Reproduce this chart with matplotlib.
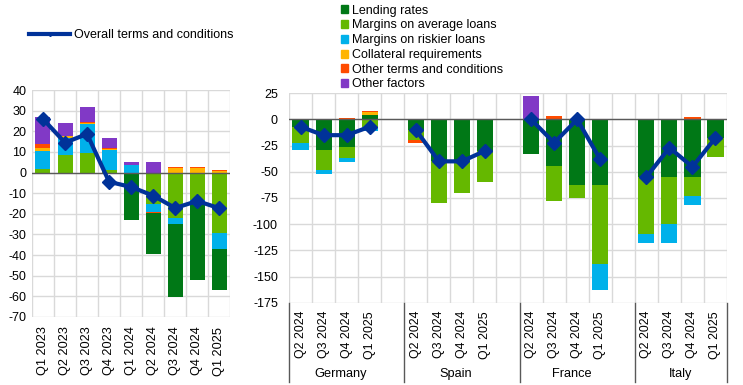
import numpy as np
import matplotlib
matplotlib.use("Agg")
import matplotlib.pyplot as plt
from matplotlib.patches import Patch
from matplotlib.lines import Line2D

plt.rcParams["font.family"] = ["Liberation Sans", "DejaVu Sans"]
plt.rcParams["axes.unicode_minus"] = False

# colours
c_lend = "#007816"
c_avg = "#65B800"
c_risk = "#00B1EA"
c_coll = "#FFB400"
c_other = "#FF4B00"
c_fact = "#8139C6"
c_line = "#003299"

# ---------------- left panel: euro area ----------------
quarters_l = ["Q1 2023", "Q2 2023", "Q3 2023", "Q4 2023", "Q1 2024",
              "Q2 2024", "Q3 2024", "Q4 2024", "Q1 2025"]
avg_l = [1.5, 8.4, 9.4, 1.3, 0, -15.2, -21.9, -13.1, -29.5]
risk_l = [8.8, 8.5, 14.1, 9.7, 3.5, -4.0, -3.1, -0.8, -7.6]
coll_l = [1.5, 0.7, 0.5, 0.3, 0, 0, 2.3, 2.3, 0.8]
other_l = [1.9, 0.3, 0.6, 0.4, -0.5, -0.5, 0.3, 0.3, 0.5]
lend_l = [0, 0, 0, 0, -22.5, -19.7, -35.6, -38.2, -19.8]
fact_l = [13.1, 6.3, 7.1, 5.0, 1.5, 5.0, 0, 0, 0]
overall_l = [26, 14.5, 18.7, -4.5, -7, -11.2, -17.2, -13.8, -17.3]

# ---------------- right panel: countries ----------------
countries = ["Germany", "Spain", "France", "Italy"]
quarters_r = ["Q2 2024", "Q3 2024", "Q4 2024", "Q1 2025"]
lend_r = {"Germany": [-7, -29.3, -26.4, 4.5],
          "Spain": [-10.2, -39.8, -40, -30],
          "France": [-32.8, -44.6, -62.7, -62.7],
          "Italy": [-54.8, -54.8, -54.8, -17.5]}
avg_r = {"Germany": [-15.9, -18.8, -10.2, -7],
         "Spain": [-9.5, -40.2, -30.4, -29.6],
         "France": [0, -33.1, -12.1, -75.2],
         "Italy": [-54.4, -45.2, -18.1, -18.2]}
risk_r = {"Germany": [-6.4, -3.8, -3.8, -4.1],
          "Spain": [0, 0, 0, 0],
          "France": [0, 0, 0, -24.9],
          "Italy": [-8.6, -17.8, -8.6, 0]}
coll_r = {"Germany": [0, 0, 0, 2.5],
          "Spain": [0, 0, 0, 0],
          "France": [0, 0, 0, 0],
          "Italy": [0, 0, 0, 0]}
other_r = {"Germany": [0, 0, 1.3, 1.3],
           "Spain": [-2.9, 0, 0, 0],
           "France": [0, 3.2, 0, 0],
           "Italy": [0, 0, 2.2, 0]}
fact_r = {"Germany": [0, 0, 0, 0],
          "Spain": [0, 0, 0, 0],
          "France": [22.3, 0, 0, 0],
          "Italy": [0, 0, 0, 0]}
overall_r = {"Germany": [-7, -15, -15, -7],
             "Spain": [-10, -40, -40, -30],
             "France": [0, -22.3, 0, -38.2],
             "Italy": [-55, -27, -45.2, -17.5]}


def stack_bars(ax, x, series, width):
    # excel style: positives and negatives stacked separately
    pos = np.zeros(len(x))
    neg = np.zeros(len(x))
    for vals, col in series:
        vals = np.array(vals, dtype=float)
        bottom = np.where(vals >= 0, pos, neg)
        ax.bar(x, vals, width=width, bottom=bottom, color=col, zorder=2)
        pos = pos + np.clip(vals, 0, None)
        neg = neg + np.clip(vals, None, 0)


def style_axis(ax):
    for s in ax.spines.values():
        s.set_visible(False)
    ax.tick_params(axis="both", length=0, labelsize=9)
    ax.grid(True, which="minor", color="#D9D9D9", linewidth=1, zorder=0)
    ax.grid(True, axis="y", which="major", color="#D9D9D9", linewidth=1, zorder=0)
    ax.tick_params(which="minor", length=0)
    ax.axhline(0, color="#595959", linewidth=1, zorder=3)


fig = plt.figure(figsize=(7.43, 3.85), dpi=100)

# left
axL = fig.add_axes([0.043, 0.177, 0.267, 0.589])
xl = np.arange(len(quarters_l))
stack_bars(axL, xl, [(avg_l, c_avg), (risk_l, c_risk), (coll_l, c_coll),
                     (other_l, c_other), (lend_l, c_lend), (fact_l, c_fact)], 0.68)
axL.plot(xl, overall_l, color=c_line, linewidth=3, marker="D", markersize=7, zorder=4)
axL.set_xlim(-0.5, len(xl) - 0.5)
axL.set_ylim(-70, 40)
axL.set_yticks(np.arange(-70, 41, 10))
axL.set_xticks(xl)
axL.set_xticklabels(quarters_l, rotation=90)
axL.set_xticks(np.arange(-0.5, len(xl), 1), minor=True)
style_axis(axL)
axL.tick_params(axis="x", pad=7, labelsize=9.2)
axL.tick_params(axis="y", pad=4)
axL.grid(False, axis="y", which="minor")

# right
axR = fig.add_axes([0.389, 0.2138, 0.5895, 0.5439])
pos_r = []
for i in range(len(countries)):
    pos_r.extend([i * 5 + k for k in range(4)])
xr = np.array(pos_r)
cat = lambda d: sum([d[c] for c in countries], [])
stack_bars(axR, xr, [(cat(lend_r), c_lend), (cat(avg_r), c_avg), (cat(risk_r), c_risk),
                     (cat(coll_r), c_coll), (cat(other_r), c_other), (cat(fact_r), c_fact)], 0.7)
for i, c in enumerate(countries):
    axR.plot(xr[i * 4:(i + 1) * 4], overall_r[c], color=c_line, linewidth=3,
             marker="D", markersize=7, zorder=4)
axR.set_xlim(-0.5, 18.5)
axR.set_ylim(-175, 25)
axR.set_yticks(np.arange(-175, 26, 25))
axR.set_xticks(xr)
axR.set_xticklabels(quarters_r * len(countries), rotation=90)
axR.set_xticks(np.arange(-0.5, 19, 1), minor=True)
style_axis(axR)
axR.grid(False, axis="y", which="minor")
axR.tick_params(axis="x", pad=6, labelsize=8.9)
axR.tick_params(axis="y", pad=8)

# country separators and names
trans = axR.get_xaxis_transform()
for b in [-0.5, 4.5, 9.5, 14.5, 18.5]:
    axR.plot([b, b], [0, -0.38], color="#595959", linewidth=1, transform=trans, clip_on=False)
centers = [1.75, 6.75, 11.75, 16.5]
for c, cx in zip(countries, centers):
    axR.text(cx, -0.34, c, transform=trans, ha="center", va="center", fontsize=9.2)

# legends
fig.legend(handles=[Line2D([0], [0], color=c_line, linewidth=3, marker="D", markersize=2)],
           labels=["Overall terms and conditions"], loc="center left",
           bbox_to_anchor=(0.039, 0.908), frameon=False, fontsize=9,
           handlelength=3.3, handletextpad=0.3, borderpad=0, borderaxespad=0)
bar_handles = [Patch(color=c) for c in [c_lend, c_avg, c_risk, c_coll, c_other, c_fact]]
bar_labels = ["Lending rates", "Margins on average loans", "Margins on riskier loans",
              "Collateral requirements", "Other terms and conditions", "Other factors"]
fig.legend(handles=bar_handles, labels=bar_labels, loc="upper left",
           bbox_to_anchor=(0.457, 0.991), frameon=False, fontsize=9,
           handlelength=0.6, handleheight=0.6, handletextpad=0.3,
           labelspacing=0.22, borderpad=0.1, borderaxespad=0)

fig.savefig("out.png", dpi=100)
